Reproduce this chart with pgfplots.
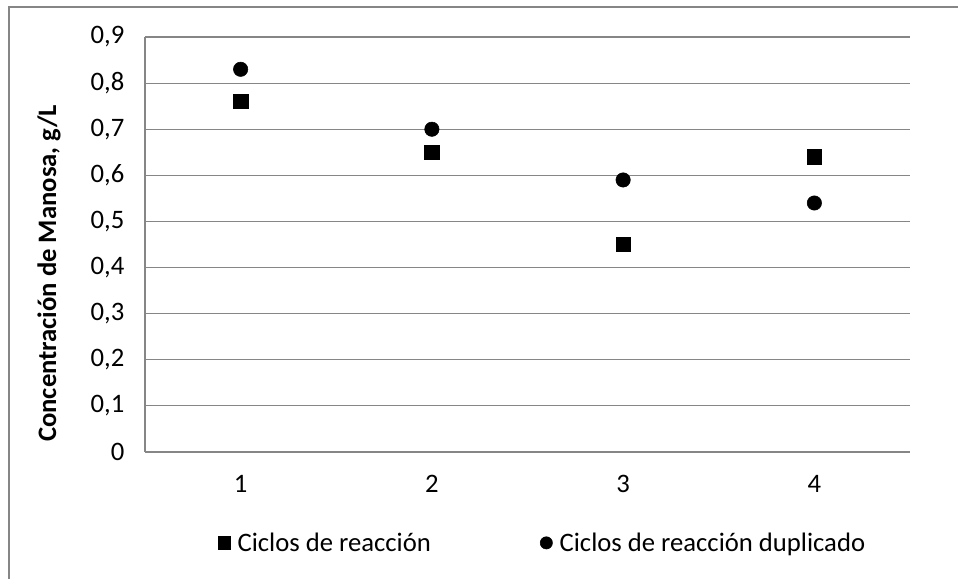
\documentclass[border=0pt]{standalone}
\usepackage{pgfplots}
\pgfplotsset{compat=1.18}
\usepackage{fontspec}
\setmainfont{Carlito}
\definecolor{gridc}{HTML}{868686}
\begin{document}
\begin{tikzpicture}
\useasboundingbox (0,0) rectangle (718.5pt,434.25pt);
\draw[gridc, line width=0.9pt] (6.75pt,0) -- (6.75pt,429pt) -- (718.5pt,429pt);
\begin{axis}[
  at={(108.75pt,95.25pt)}, anchor=south west,
  scale only axis, width=573.75pt, height=311.25pt,
  xmin=0.5, xmax=4.5, ymin=0, ymax=0.9,
  xtick={1,2,3,4}, ytick={0,0.1,...,0.9},
  yticklabels={0,{0,1},{0,2},{0,3},{0,4},{0,5},{0,6},{0,7},{0,8},{0,9}},
  major tick length=0pt,
  axis x line*=bottom, axis y line*=left,
  axis line style={gridc, line width=0.9pt},
  ymajorgrids, grid style={gridc, line width=0.9pt},
  tick label style={font=\fontsize{20}{24}\selectfont, black},
  yticklabel style={xshift=-12pt, anchor=east},
  xticklabel style={yshift=-14pt},
  /pgf/number format/assume math mode=true,
  legend columns=2,
  legend style={at={(0.09,-0.219)}, anchor=west, draw=none, fill=none,
    font=\fontsize{20}{24}\selectfont, /tikz/every even column/.append style={column sep=80pt}},
  legend cell align=left,
  legend image code/.code={\path[draw=none, fill=none] (-4.6pt,0pt) -- (8pt,0pt);\draw[#1, mark size=4.6pt] plot coordinates {(0pt,0pt)};},
]
\addplot[only marks, mark=square*, mark size=5.4pt, black] coordinates {(1,0.76) (2,0.65) (3,0.45) (4,0.64)};
\addlegendentry{Ciclos de reacción}
\addplot[only marks, mark=*, mark size=5.4pt, black] coordinates {(1,0.83) (2,0.70) (3,0.59) (4,0.54)};
\addlegendentry{Ciclos de reacción duplicado}
\end{axis}
\node[rotate=90, anchor=east, font=\fontsize{20}{24}\selectfont\bfseries] at (36.75pt,359pt) {Concentración de Manosa, g/L};
\end{tikzpicture}
\end{document}
